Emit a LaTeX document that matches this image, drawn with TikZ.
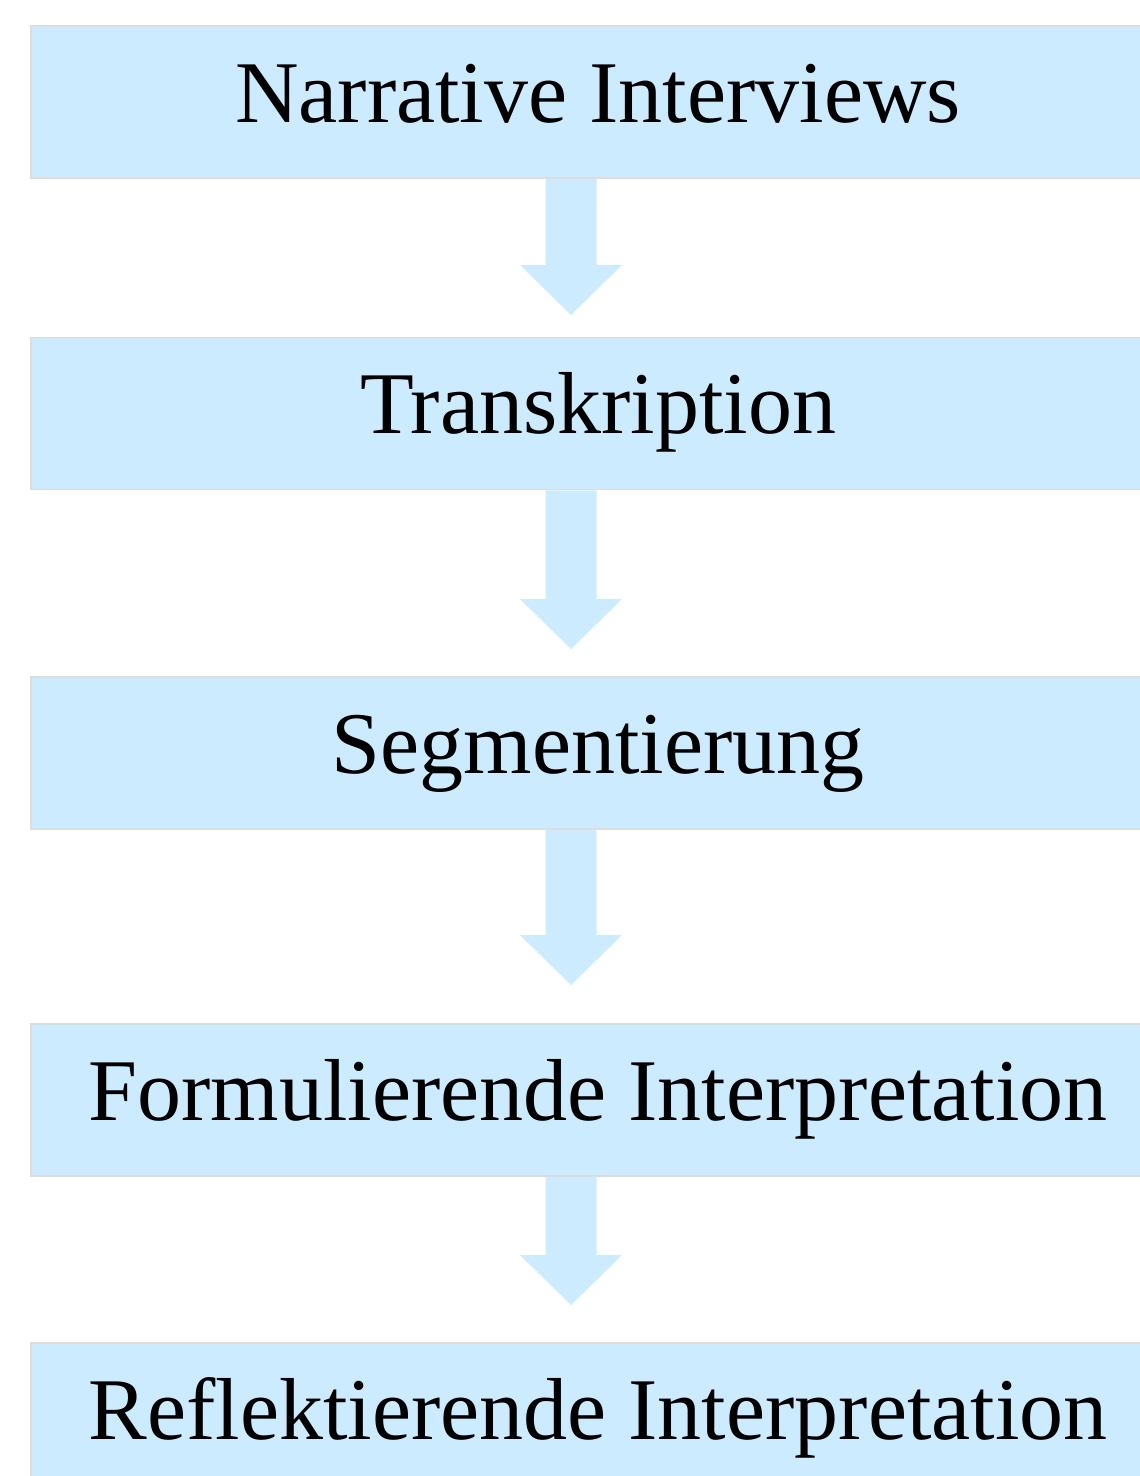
\documentclass[tikz,border=0pt]{standalone}
\usepackage{fontspec}
\setmainfont{Liberation Serif}
\usetikzlibrary{calc}
\definecolor{boxfill}{RGB}{204,235,255}
\definecolor{boxline}{RGB}{221,221,221}
\tikzset{
  stepbox/.style={draw=boxline, line width=1.8pt, fill=boxfill, minimum width=1134pt, minimum height=152pt,
    inner sep=0pt, font=\fontsize{88}{100}\selectfont, text height=61pt, text depth=21pt},
  arrowfill/.style={fill=boxfill}
}
\newcommand\flowarrow[2]{%
  \fill[arrowfill] ($(#1)+(-25.5,0)$) -- ($(#2)+(-25.5,50)$) -- ($(#2)+(-51,50)$) -- (#2)
    -- ($(#2)+(51,50)$) -- ($(#2)+(25.5,50)$) -- ($(#1)+(25.5,0)$) -- cycle;}
\begin{document}
\begin{tikzpicture}[x=1pt,y=1pt]
\useasboundingbox (0,0) rectangle (1140,-1476);
\node[stepbox] (b1) at (598,-102) {Narrative Interviews};
\node[stepbox] (b2) at (598,-413.5) {Transkription};
\node[stepbox] (b3) at (598,-753) {Segmentierung};
\node[stepbox] (b4) at (598,-1100) {Formulierende Interpretation};
\node[stepbox] (b5) at (598,-1419) {Reflektierende Interpretation};
\path (b1.south) ++(-27,0) coordinate (s1);
\path (b2.south) ++(-27,0) coordinate (s2);
\path (b3.south) ++(-27,0) coordinate (s3);
\path (b4.south) ++(-27,0) coordinate (s4);
\coordinate (t1) at (571,-315);
\coordinate (t2) at (571,-649);
\coordinate (t3) at (571,-985);
\coordinate (t4) at (571,-1305);
\flowarrow{s1}{t1}
\flowarrow{s2}{t2}
\flowarrow{s3}{t3}
\flowarrow{s4}{t4}
\end{tikzpicture}
\end{document}
